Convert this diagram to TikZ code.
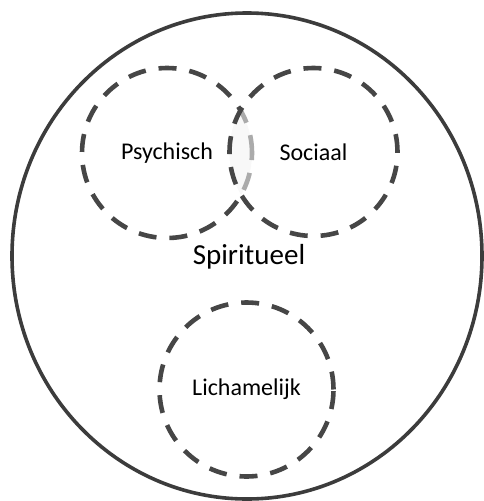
\documentclass[tikz,border=0pt]{standalone}
\usepackage{fontspec}
\setmainfont{Carlito}
\usetikzlibrary{shapes.geometric}
\definecolor{ringcol}{HTML}{464646}
\definecolor{outercol}{HTML}{3C3C3C}
\tikzset{
  ring/.style={circle, draw=ringcol, line width=4.6pt, dash pattern=on 18pt off 13pt, inner sep=0pt},
  lbl/.style={font=\fontsize{24}{28}\selectfont, text=black},
}
\begin{document}
\begin{tikzpicture}[x=1pt,y=1pt]
\useasboundingbox (0,0) rectangle (483,-501);
% outer boundary
\node (outer) [ellipse, draw=outercol, line width=3.6pt, minimum width=470pt, minimum height=486pt, inner sep=0pt] at (247,-256) {};
\node (spir) [font=\fontsize{29}{33}\selectfont] at (249,-257) {Spiritueel};
% lens tint
\begin{scope}
  \clip (167,-153) circle (85pt);
  \fill[gray!12] (313.5,-152) circle (84pt);
\end{scope}
\node (psy) [ring, minimum size=170pt, lbl] at (167,-153) {Psychisch};
\node (soc) [ring, minimum size=168pt, fill=white, fill opacity=0.55, draw opacity=1, text opacity=1, lbl] at (313.5,-152) {Sociaal};
\node (lich) [ring, minimum size=174pt, lbl] at (246.5,-389.5) {Lichamelijk};
\end{tikzpicture}
\end{document}
